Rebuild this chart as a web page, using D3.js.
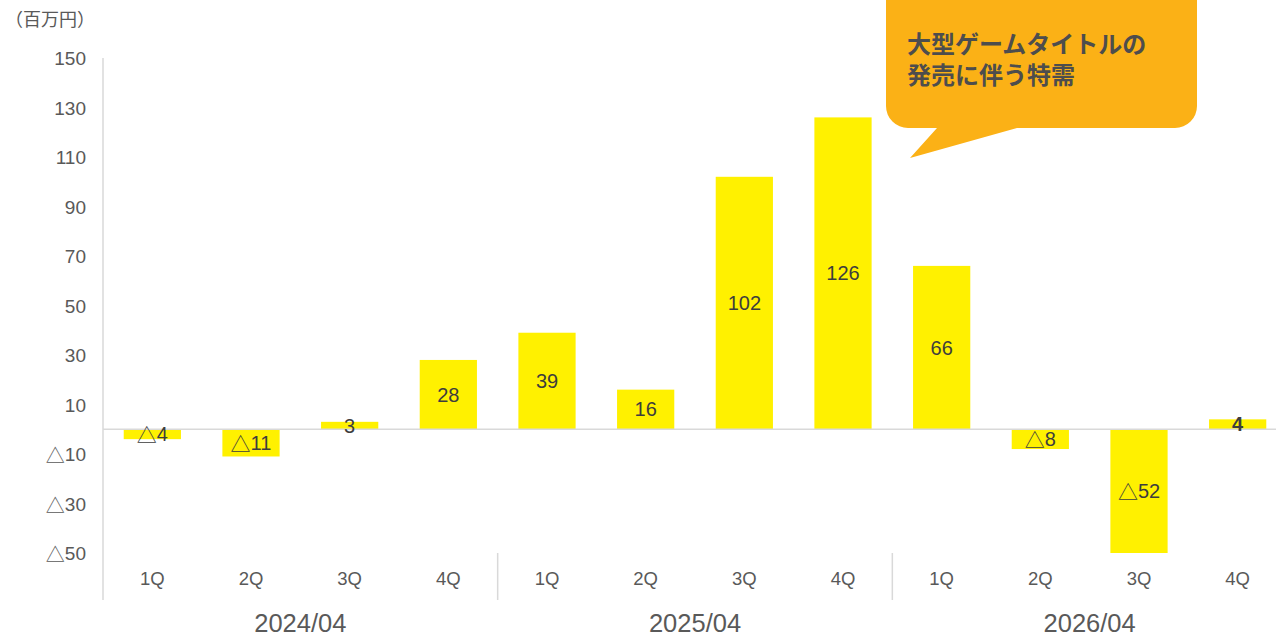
<!DOCTYPE html>
<html lang="ja">
<head>
<meta charset="utf-8">
<script src="https://cdn.jsdelivr.net/npm/d3@7"></script>
<style>
  html, body { margin: 0; padding: 0; background: #fff; }
  svg { display: block; }
</style>
</head>
<body>
<svg id="chart" width="1276" height="636"></svg>
<script>
// Quarterly operating profit (百万円), grouped by fiscal year
const fiscalYears = ["2024/04", "2025/04", "2026/04"];
const quarters = ["1Q", "2Q", "3Q", "4Q"];
const values = [-4, -11, 3, 28, 39, 16, 102, 126, 66, -8, -52, 4];
const yTicks = [150, 130, 110, 90, 70, 50, 30, 10, -10, -30, -50];
const unitLabel = "（百万円）";
const calloutLines = ["大型ゲームタイトルの", "発売に伴う特需"];

const W = 1276, H = 636;
const LATIN = "'Liberation Sans', Arial, 'DejaVu Sans', sans-serif";
const CJK = "'Noto Sans CJK JP', 'Noto Sans', sans-serif";
const GRID = "#d9d9d9";
const TEXT = "#595959";

const svg = d3.select("#chart");

// one category per quarter across all fiscal years
const cats = [];
fiscalYears.forEach((fy, i) => quarters.forEach((q, j) => cats.push({ fy, q, idx: i * 4 + j, value: values[i * 4 + j] })));

const x = d3.scaleBand()
  .domain(cats.map(c => c.idx))
  .range([103, 1287])
  .paddingInner(0.42)
  .paddingOuter(0.21);

const y = d3.scaleLinear().domain([-50, 150]).range([553, 58]).clamp(true);

// negative numbers are written with a full-width △ prefix
function writeNumber(sel) {
  sel.each(function (v) {
    const t = d3.select(this);
    t.selectAll("tspan").remove();
    if (v < 0) {
      t.append("tspan").attr("font-family", CJK).attr("font-weight", "normal").text("△");
      t.append("tspan").text(Math.abs(v));
    } else {
      t.append("tspan").text(v);
    }
  });
}

// bars
svg.append("g").selectAll("rect").data(cats).join("rect")
  .attr("x", d => x(d.idx))
  .attr("width", x.bandwidth())
  .attr("y", d => Math.min(y(d.value), y(0)))
  .attr("height", d => Math.abs(y(d.value) - y(0)))
  .attr("fill", "#fff100");

// zero line
svg.append("line")
  .attr("x1", 103).attr("x2", W)
  .attr("y1", y(0)).attr("y2", y(0))
  .attr("stroke", GRID).attr("stroke-width", 1.5);

// vertical axis line
svg.append("line")
  .attr("x1", 103).attr("x2", 103)
  .attr("y1", 58).attr("y2", 600)
  .attr("stroke", GRID).attr("stroke-width", 1.5);

// y tick labels
svg.append("g").selectAll("text").data(yTicks).join("text")
  .attr("x", 86)
  .attr("y", d => y(d))
  .attr("text-anchor", "end")
  .attr("dominant-baseline", "central")
  .attr("font-family", LATIN)
  .attr("font-size", 19)
  .attr("fill", TEXT)
  .call(writeNumber);

// unit label
svg.append("text")
  .attr("x", 5).attr("y", 26)
  .attr("font-family", CJK)
  .attr("font-size", 18)
  .attr("fill", TEXT)
  .text(unitLabel);

// quarter labels
svg.append("g").selectAll("text").data(cats).join("text")
  .attr("x", d => x(d.idx) + x.bandwidth() / 2)
  .attr("y", 578)
  .attr("text-anchor", "middle")
  .attr("dominant-baseline", "central")
  .attr("font-family", LATIN)
  .attr("font-size", 18.5)
  .attr("fill", TEXT)
  .text(d => d.q);

// fiscal-year separators
const step = x.step();
fiscalYears.slice(1).forEach((fy, i) => {
  const sx = x((i + 1) * 4) - x.paddingInner() * step / 2;
  svg.append("line")
    .attr("x1", sx).attr("x2", sx)
    .attr("y1", 553).attr("y2", 600)
    .attr("stroke", GRID).attr("stroke-width", 1.5);
});

// fiscal-year labels
svg.append("g").selectAll("text").data(fiscalYears).join("text")
  .attr("x", (d, i) => (x(i * 4) + x(i * 4 + 3) + x.bandwidth()) / 2)
  .attr("y", 632)
  .attr("text-anchor", "middle")
  .attr("font-family", LATIN)
  .attr("font-size", 25.5)
  .attr("fill", TEXT)
  .text(d => d);

// value labels, centred in the visible part of each bar
svg.append("g").selectAll("text").data(cats.map(c => c.value)).join("text")
  .attr("x", (d, i) => x(i) + x.bandwidth() / 2)
  .attr("y", d => (y(d) + y(0)) / 2)
  .attr("text-anchor", "middle")
  .attr("dominant-baseline", "central")
  .attr("font-family", LATIN)
  .attr("font-size", 20)
  .attr("font-weight", (d, i) => i === cats.length - 1 ? "bold" : "normal")
  .attr("fill", "#3d3d3d")
  .call(writeNumber);

// speech-bubble callout
const bx0 = 886, bx1 = 1197, by0 = -30, by1 = 128, r = 22;
const tail = { a: 1017, b: 937, tipX: 910, tipY: 158 };
const bubble = d3.path();
bubble.moveTo(bx0 + r, by0);
bubble.lineTo(bx1 - r, by0);
bubble.arcTo(bx1, by0, bx1, by0 + r, r);
bubble.lineTo(bx1, by1 - r);
bubble.arcTo(bx1, by1, bx1 - r, by1, r);
bubble.lineTo(tail.a, by1);
bubble.lineTo(tail.tipX, tail.tipY);
bubble.lineTo(tail.b, by1);
bubble.lineTo(bx0 + r, by1);
bubble.arcTo(bx0, by1, bx0, by1 - r, r);
bubble.lineTo(bx0, by0 + r);
bubble.arcTo(bx0, by0, bx0 + r, by0, r);
bubble.closePath();
svg.append("path").attr("d", bubble.toString()).attr("fill", "#fbb116");

svg.append("g").selectAll("text").data(calloutLines).join("text")
  .attr("x", 907)
  .attr("y", (d, i) => 53 + i * 31)
  .attr("font-family", CJK)
  .attr("font-size", 24)
  .attr("font-weight", "bold")
  .attr("fill", "#4d4d4d")
  .text(d => d);
</script>
</body>
</html>
